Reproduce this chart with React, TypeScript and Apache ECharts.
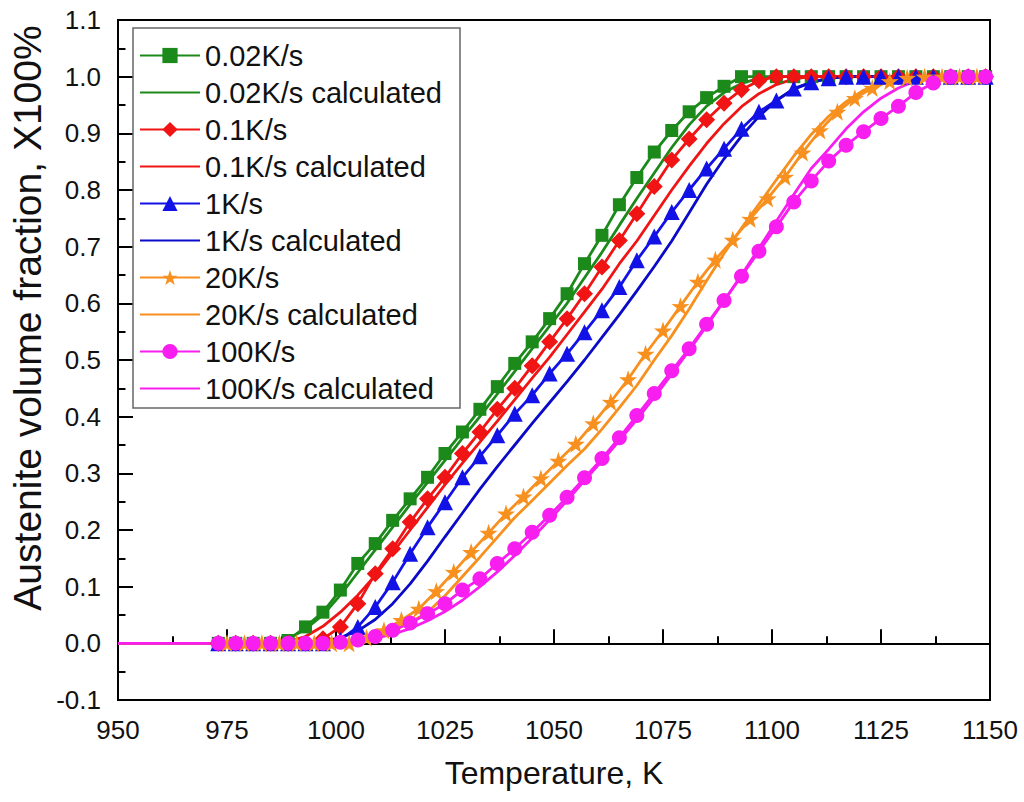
import React, { useEffect, useRef } from "react";
import * as echarts from "echarts";

// Temperatures (K) of the measured points
const tempsA = [973, 977, 981, 985, 989, 993, 997, 1001, 1005, 1009, 1013, 1017, 1021, 1025, 1029, 1033, 1037, 1041, 1045, 1049, 1053, 1057, 1061, 1065, 1069, 1073, 1077, 1081, 1085, 1089, 1093, 1097, 1101, 1105, 1109, 1113, 1117, 1121, 1125, 1129, 1133, 1137, 1141, 1145, 1149];
const tempsB = [975, 979, 983, 987, 991, 995, 999, 1003, 1007, 1011, 1015, 1019, 1023, 1027, 1031, 1035, 1039, 1043, 1047, 1051, 1055, 1059, 1063, 1067, 1071, 1075, 1079, 1083, 1087, 1091, 1095, 1099, 1103, 1107, 1111, 1115, 1119, 1123, 1127, 1131, 1135, 1139, 1143, 1147];
const calcStart = [950, 0];
const calcEnd = [1150, 1.0];

const exp002 = [0, 0, 0, 0, 0.005, 0.029, 0.055, 0.094, 0.141, 0.176, 0.217, 0.255, 0.293, 0.335, 0.373, 0.413, 0.453, 0.494, 0.532, 0.573, 0.617, 0.670, 0.720, 0.774, 0.822, 0.867, 0.905, 0.938, 0.963, 0.983, 1.0, 1, 1, 1, 1, 1, 1, 1, 1, 1, 1, 1, 1, 1, 1];
const calc002 = [0, 0, 0, 0, 0.008, 0.025, 0.050, 0.085, 0.125, 0.165, 0.205, 0.245, 0.284, 0.323, 0.362, 0.400, 0.440, 0.480, 0.520, 0.560, 0.600, 0.645, 0.690, 0.738, 0.785, 0.830, 0.875, 0.915, 0.948, 0.972, 0.988, 0.997, 1, 1, 1, 1, 1, 1, 1, 1, 1, 1, 1, 1, 1];
const exp01 = [0, 0, 0, 0, 0, 0, 0.008, 0.029, 0.070, 0.123, 0.167, 0.214, 0.255, 0.293, 0.335, 0.373, 0.413, 0.450, 0.490, 0.532, 0.573, 0.617, 0.664, 0.711, 0.758, 0.806, 0.853, 0.890, 0.924, 0.953, 0.977, 0.993, 1.0, 1, 1, 1, 1, 1, 1, 1, 1, 1, 1, 1, 1];
const calc01 = [0, 0, 0, 0, 0.003, 0.012, 0.030, 0.055, 0.085, 0.120, 0.160, 0.200, 0.240, 0.280, 0.318, 0.355, 0.392, 0.430, 0.468, 0.505, 0.545, 0.585, 0.625, 0.670, 0.710, 0.755, 0.800, 0.842, 0.882, 0.917, 0.947, 0.970, 0.986, 0.996, 1.0, 1, 1, 1, 1, 1, 1, 1, 1, 1, 1];
const exp1 = [0, 0, 0, 0, 0, 0, 0, 0.006, 0.029, 0.064, 0.108, 0.158, 0.205, 0.249, 0.293, 0.330, 0.367, 0.405, 0.438, 0.476, 0.511, 0.549, 0.588, 0.629, 0.676, 0.718, 0.761, 0.800, 0.838, 0.873, 0.908, 0.938, 0.958, 0.979, 0.990, 0.997, 1.0, 1, 1, 1, 1, 1, 1, 1, 1];
const calc1 = [0, 0, 0, 0, 0, 0, 0.003, 0.010, 0.022, 0.042, 0.070, 0.105, 0.145, 0.188, 0.230, 0.272, 0.312, 0.350, 0.388, 0.425, 0.462, 0.500, 0.540, 0.580, 0.622, 0.665, 0.710, 0.760, 0.810, 0.855, 0.895, 0.930, 0.958, 0.978, 0.990, 0.997, 1.0, 1, 1, 1, 1, 1, 1, 1, 1];
const exp20 = [0, 0, 0, 0, 0, 0, 0, 0, 0.010, 0.023, 0.041, 0.061, 0.092, 0.126, 0.161, 0.195, 0.229, 0.259, 0.291, 0.322, 0.352, 0.388, 0.426, 0.466, 0.511, 0.552, 0.595, 0.638, 0.677, 0.712, 0.749, 0.785, 0.823, 0.866, 0.905, 0.938, 0.962, 0.980, 0.992, 0.998, 1.0, 1, 1, 1];
const calc20 = [0, 0, 0, 0, 0, 0, 0, 0.002, 0.006, 0.012, 0.021, 0.037, 0.055, 0.084, 0.118, 0.152, 0.187, 0.222, 0.252, 0.283, 0.314, 0.343, 0.378, 0.416, 0.455, 0.500, 0.543, 0.590, 0.640, 0.688, 0.733, 0.775, 0.818, 0.860, 0.898, 0.930, 0.956, 0.976, 0.989, 0.996, 1.0, 1, 1, 1, 1];
const exp100 = [0, 0, 0, 0, 0, 0, 0, 0.002, 0.006, 0.012, 0.023, 0.036, 0.052, 0.070, 0.094, 0.114, 0.141, 0.167, 0.196, 0.226, 0.258, 0.292, 0.326, 0.363, 0.402, 0.441, 0.481, 0.520, 0.563, 0.605, 0.648, 0.692, 0.735, 0.779, 0.816, 0.851, 0.879, 0.903, 0.926, 0.948, 0.972, 0.989, 1.0, 1.0, 1.0];
const calc100 = [0, 0, 0, 0, 0, 0, 0, 0, 0.004, 0.009, 0.016, 0.026, 0.040, 0.056, 0.076, 0.100, 0.126, 0.155, 0.186, 0.218, 0.252, 0.287, 0.322, 0.358, 0.395, 0.434, 0.475, 0.517, 0.560, 0.604, 0.650, 0.697, 0.745, 0.792, 0.838, 0.872, 0.908, 0.938, 0.962, 0.980, 0.993, 1.0, 1, 1, 1];

const seriesNames = [
  "0.02K/s", "0.02K/s calculated",
  "0.1K/s", "0.1K/s calculated",
  "1K/s", "1K/s calculated",
  "20K/s", "20K/s calculated",
  "100K/s", "100K/s calculated",
];

const STAR = "path://M50,0 L61.8,35.1 L97.6,34.5 L68.7,56 L79.4,90.5 L50,69.5 L20.6,90.5 L31.3,56 L2.4,34.5 L38.2,35.1 Z";
const FONT = '"Liberation Sans", Arial, Helvetica, sans-serif';

function pairs(ts: number[], vs: number[]) {
  return ts.map((t, i) => [t, vs[i]]);
}

function expSeries(name: string, color: string, symbol: string, size: number, ts: number[], vs: number[]) {
  return {
    name,
    type: "line",
    data: pairs(ts, vs),
    symbol,
    symbolSize: size,
    showSymbol: true,
    lineStyle: { color, width: 2.8 },
    itemStyle: { color },
    emphasis: { disabled: true },
  };
}

function calcSeries(name: string, color: string, vs: number[]) {
  return {
    name,
    type: "line",
    data: [calcStart, ...pairs(tempsA, vs), calcEnd],
    symbol: "none",
    lineStyle: { color, width: 2.8 },
    itemStyle: { color },
    emphasis: { disabled: true },
  };
}

export default function App() {
  const ref = useRef<HTMLDivElement>(null);
  useEffect(() => {
    if (!ref.current) return;
    const chart = echarts.init(ref.current, null, { renderer: "svg" });
    const green = "#1b8a1b";
    const red = "#f01414";
    const blue = "#1212e6";
    const blueCalc = "#0a0ac8";
    const orange = "#f7901e";
    const magenta = "#f81ef0";
    chart.setOption({
      animation: false,
      backgroundColor: "#ffffff",
      textStyle: { fontFamily: FONT },
      grid: {
        left: 118, right: 34, top: 20, bottom: 102,
        show: true, borderColor: "#000", borderWidth: 2,
      },
      xAxis: {
        type: "value", min: 950, max: 1150, interval: 25,
        axisLine: { show: true, lineStyle: { color: "#000", width: 2 } },
        axisTick: { show: true, inside: true, length: 14, lineStyle: { color: "#000", width: 2 } },
        minorTick: { show: true, splitNumber: 2, length: 7, lineStyle: { color: "#000", width: 2 } },
        splitLine: { show: false },
        axisLabel: { fontSize: 26, color: "#111", margin: 17, fontFamily: FONT, formatter: (v: number) => String(v) },
        name: "Temperature, K", nameLocation: "middle", nameGap: 57,
        nameTextStyle: { fontSize: 32, color: "#111", fontFamily: FONT },
      },
      yAxis: {
        type: "value", min: -0.1, max: 1.1, interval: 0.1,
        axisLine: { show: true, lineStyle: { color: "#000", width: 2 } },
        axisTick: { show: true, inside: true, length: 15, lineStyle: { color: "#000", width: 2 } },
        minorTick: { show: true, splitNumber: 2, length: 7.5, lineStyle: { color: "#000", width: 2 } },
        splitLine: { show: false },
        axisLabel: { fontSize: 26, color: "#111", margin: 17, fontFamily: FONT, formatter: (v: number) => v.toFixed(1) },
      },
      legend: {
        orient: "vertical", left: 139, top: 41, padding: 0,
        itemWidth: 60, itemHeight: 19, itemGap: 8,
        textStyle: { fontSize: 29, color: "#111", fontFamily: FONT },
        data: seriesNames.map((n, i) =>
          i % 2 === 1 ? { name: n, itemStyle: { opacity: 0 } } : { name: n }
        ),
        selectedMode: false,
      },
      graphic: [
        {
          type: "rect", z: 1,
          shape: { x: 133, y: 28, width: 327, height: 380 },
          style: { fill: "none", stroke: "#666", lineWidth: 1.5 },
        },
        {
          type: "text", x: 27, y: 318, rotation: Math.PI / 2,
          style: {
            text: "Austenite volume fraction, X100%",
            fontSize: 39, fontFamily: FONT, fill: "#111",
            align: "center", verticalAlign: "middle",
          },
        },
      ],
      series: [
        expSeries(seriesNames[0], green, "rect", 13, tempsA, exp002),
        calcSeries(seriesNames[1], green, calc002),
        expSeries(seriesNames[2], red, "diamond", 17, tempsA, exp01),
        calcSeries(seriesNames[3], red, calc01),
        expSeries(seriesNames[4], blue, "triangle", 16, tempsA, exp1),
        calcSeries(seriesNames[5], blueCalc, calc1),
        expSeries(seriesNames[6], orange, STAR, 18, tempsB, exp20),
        calcSeries(seriesNames[7], orange, calc20),
        expSeries(seriesNames[8], magenta, "circle", 15, tempsA, exp100),
        calcSeries(seriesNames[9], magenta, calc100),
      ],
    });
    return () => chart.dispose();
  }, []);
  return (
    <div
      ref={ref}
      style={{ position: "absolute", left: 0, top: 0, width: 1024, height: 802, background: "#fff" }}
    />
  );
}
